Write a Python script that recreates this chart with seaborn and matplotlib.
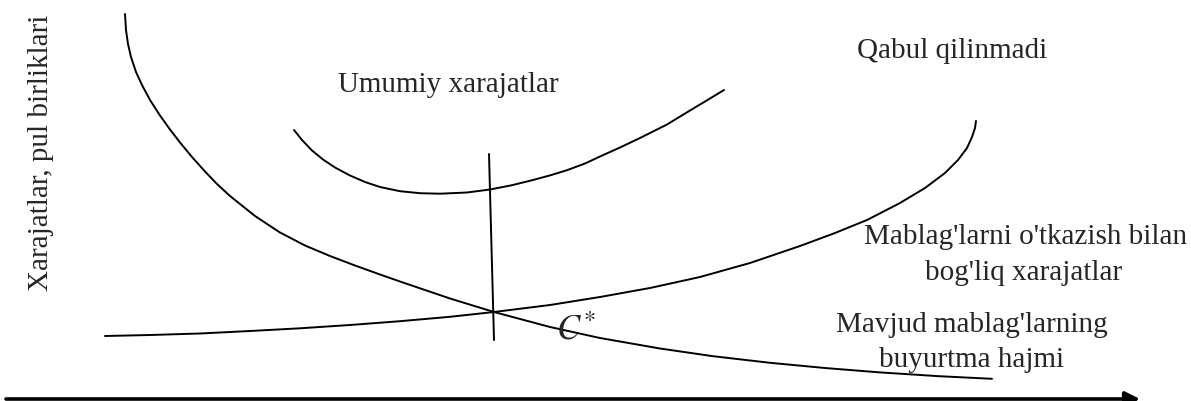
import numpy as np
import pandas as pd
import seaborn as sns
import matplotlib.pyplot as plt

# Curves: x = order size, y = cost (arbitrary units, 0 at the axis)
# Holding cost curve (falls with order size)
fall_x = [125, 126, 128, 131, 136, 142, 150, 160, 170, 180, 192, 205, 217, 230, 255, 280,
          305, 330, 355, 380, 400, 450, 494, 550, 600, 660, 713, 770, 826, 880, 939, 992]
fall_y = [387, 371, 357, 344, 329, 316, 301, 285.5, 271.5, 258.5, 244, 229.5, 217, 205, 185,
          168.5, 155.5, 145, 135.5, 126.5, 119.5, 102.5, 89, 74, 63, 52.5, 44.8, 38.2, 32.9,
          28.6, 24.8, 22.2]

# Transfer cost curve (rises with order size)
rise_x = [105, 150, 200, 250, 300, 350, 400, 450, 494, 550, 600, 650, 700, 750, 800, 835,
          867, 900, 925, 945, 958, 967, 972, 975, 976]
rise_y = [65, 66, 67.5, 70, 72.7, 76, 79.8, 84.2, 89, 96, 104, 113, 124, 138, 155, 168,
          181, 198, 213, 228, 241, 253, 264, 273, 280]

# Total cost curve (U shape)
total_x = [294, 302, 312, 323, 335, 350, 365, 380, 400, 420, 440, 467, 490, 512, 533, 550,
           567, 585, 600, 620, 640, 667, 690, 710, 724]
total_y = [271, 261, 250.5, 241.5, 233.5, 225.5, 219, 214, 209.8, 207.8, 207.3, 208.5, 211.5,
           215.8, 221, 225.6, 230.8, 237.5, 244.5, 253.5, 263, 276.5, 290.5, 302.5, 311]

# Optimum marker line
opt_x = [489, 494]
opt_y = [247, 61]

sns.set_theme(style='white')
plt.rcParams['font.family'] = ['Liberation Serif', 'DejaVu Serif']
plt.rcParams['mathtext.fontset'] = 'stix'

fig = plt.figure(figsize=(11.91, 4.01), dpi=100)
ax = fig.add_axes([0, 0, 1, 1])

curves = [
    pd.DataFrame({'x': fall_x, 'y': fall_y}),
    pd.DataFrame({'x': rise_x, 'y': rise_y}),
    pd.DataFrame({'x': total_x, 'y': total_y}),
    pd.DataFrame({'x': opt_x, 'y': opt_y}),
]
for df in curves:
    sns.lineplot(data=df, x='x', y='y', sort=False, estimator=None,
                 color='black', linewidth=1.4, ax=ax)

ax.set_xlim(0, 1191)
ax.set_ylim(0, 401)
ax.axis('off')

# horizontal axis arrow
ax.annotate('', xy=(1140, 2), xytext=(6, 2),
            arrowprops=dict(arrowstyle='-|>', lw=2.6, color='black',
                            mutation_scale=22, shrinkA=0, shrinkB=0))

fs = 21
ax.text(48, 248, 'Xarajatlar, pul birliklari', rotation=90, rotation_mode='anchor',
        ha='center', va='baseline', fontsize=fs)
ax.text(448, 309, 'Umumiy xarajatlar', ha='center', va='baseline', fontsize=fs)
ax.text(952, 343, 'Qabul qilinmadi', ha='center', va='baseline', fontsize=fs)
ax.text(1026, 157, "Mablag'larni o'tkazish bilan", ha='center', va='baseline', fontsize=fs)
ax.text(1024, 121, "bog'liq xarajatlar", ha='center', va='baseline', fontsize=fs)
ax.text(972, 69, "Mavjud mablag'larning", ha='center', va='baseline', fontsize=fs)
ax.text(972, 34, 'buyurtma hajmi', ha='center', va='baseline', fontsize=fs)
ax.text(556, 61, r'$C^{*}$', ha='left', va='baseline', fontsize=25)

fig.savefig('out.png', dpi=100)
